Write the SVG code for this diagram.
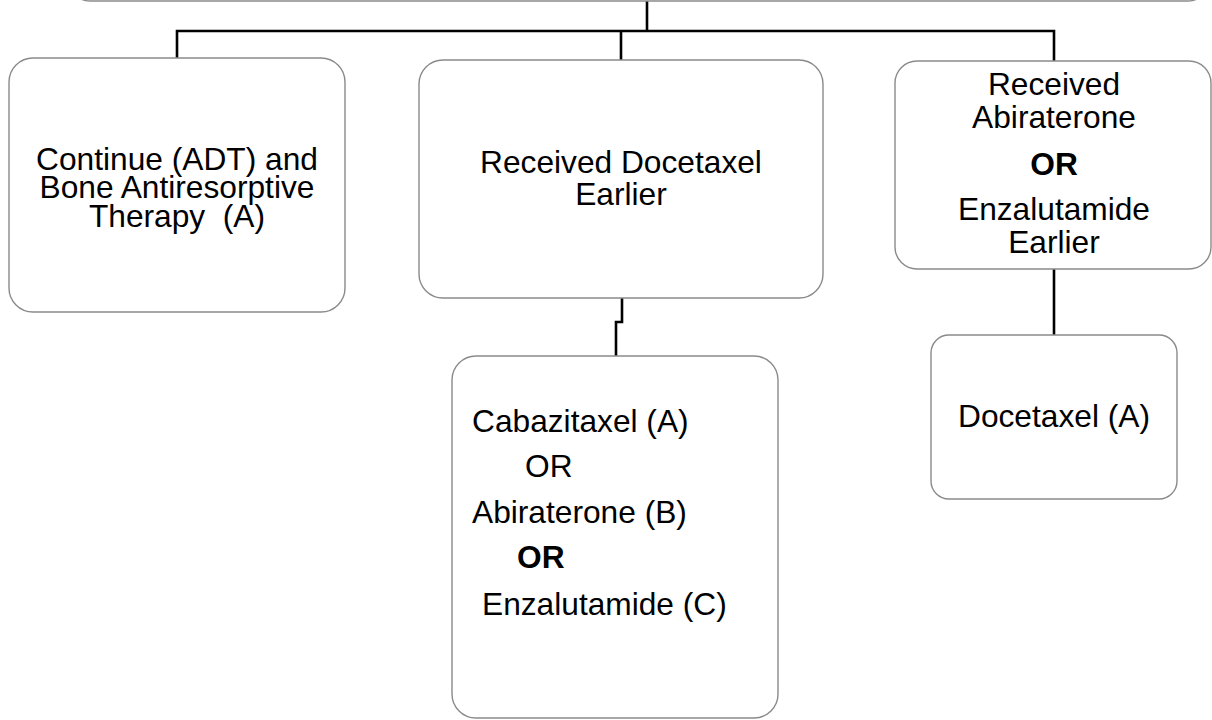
<svg xmlns="http://www.w3.org/2000/svg" width="1212" height="720" viewBox="0 0 1212 720">
<style>
.box{fill:#fff;stroke:#8a8a8a;stroke-width:1.4}
.conn{fill:none;stroke:#000;stroke-width:2.6}
text{font-family:"Liberation Sans",Arial,sans-serif;font-size:31.7px;fill:#000}
.c{text-anchor:middle}
.b{font-weight:bold}
</style>
<rect width="1212" height="720" fill="#fff"/>
<g id="connectors">
<path class="conn" d="M647,0 V31"/>
<path class="conn" d="M177,60 V31 H1054 V61"/>
<path class="conn" d="M621,31 V60"/>
<path class="conn" d="M622,298 V322 H616 V356"/>
<path class="conn" d="M1054,269 V335"/>
</g>
<g id="top">
<rect class="box" x="68" y="-100" width="1142" height="101" rx="22"/>
</g>
<g id="continue">
<rect class="box" x="9" y="58" width="336" height="254" rx="24"/>
<text class="c" x="177" y="170">Continue (ADT) and</text>
<text class="c" x="177" y="198">Bone Antiresorptive</text>
<text class="c" x="177" y="227" xml:space="preserve">Therapy  (A)</text>
</g>
<g id="docetaxel-earlier">
<rect class="box" x="419" y="60" width="404" height="238" rx="24"/>
<text class="c" x="621" y="173">Received Docetaxel</text>
<text class="c" x="621" y="205">Earlier</text>
</g>
<g id="abi-enza-earlier">
<rect class="box" x="895" y="61" width="316" height="208" rx="22"/>
<text class="c" x="1054" y="95">Received</text>
<text class="c" x="1054" y="128">Abiraterone</text>
<text class="c b" x="1054" y="175">OR</text>
<text class="c" x="1054" y="220">Enzalutamide</text>
<text class="c" x="1054" y="253">Earlier</text>
</g>
<g id="options">
<rect class="box" x="452" y="356" width="326" height="362" rx="24"/>
<text x="472" y="432">Cabazitaxel (A)</text>
<text x="525" y="477">OR</text>
<text x="472" y="523">Abiraterone (B)</text>
<text class="b" x="517" y="568">OR</text>
<text x="482" y="615">Enzalutamide (C)</text>
</g>
<g id="docetaxel">
<rect class="box" x="931" y="335" width="246" height="164" rx="18"/>
<text class="c" x="1054" y="427">Docetaxel (A)</text>
</g>
</svg>
